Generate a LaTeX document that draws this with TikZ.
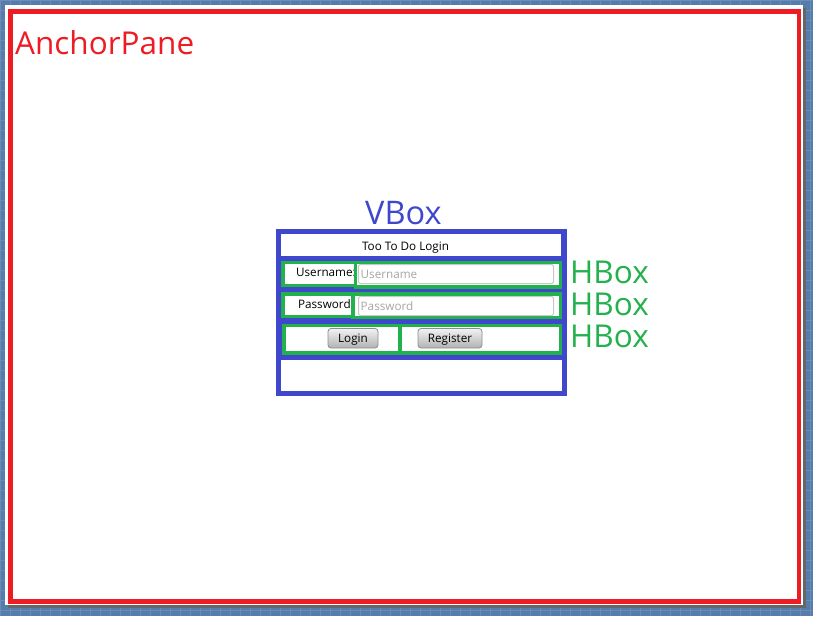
\documentclass[tikz,border=0pt]{standalone}
\usepackage{fontspec}
\setmainfont{Open Sans}
\definecolor{paintred}{HTML}{ED1C24}
\definecolor{paintblue}{HTML}{3F48CC}
\definecolor{paintgreen}{HTML}{22B14C}
\definecolor{bgblue}{HTML}{557CAA}
\definecolor{gridline}{HTML}{6A8DB8}
\definecolor{fieldline}{HTML}{C8C8C8}
\definecolor{hint}{HTML}{A6A6A6}
\tikzset{
  hbox/.style={draw=paintgreen, line width=3.5pt, fill=white},
  field/.style={draw=fieldline, line width=1pt, fill=white, rounded corners=1.5pt},
  btn/.style={draw=black!45, line width=0.8pt, rounded corners=3pt, top color=white!95!black, bottom color=black!30},
  small/.style={inner sep=0pt, font=\fontsize{11.7}{13}\selectfont},
  big/.style={inner sep=0pt, font=\fontsize{31.5}{36}\selectfont},
}
\begin{document}
\begin{tikzpicture}[x=1pt,y=-1pt]
\useasboundingbox (0,0) rectangle (813,616);
% desktop background with grid
\fill[bgblue] (0,0) rectangle (813,616);
\foreach \g in {0,10,...,810} \draw[gridline, line width=0.7pt] (\g,0) -- (\g,616);
\foreach \g in {0,10,...,610} \draw[gridline, line width=0.7pt] (0,\g) -- (813,\g);
% window shadow and white pane
\fill[black!60] (8,8) rectangle (806,608);
\fill[white] (5,5) rectangle (803,605);
% AnchorPane border
\draw[paintred, line width=4.5pt] (10.5,11.25) rectangle (798.75,601.25);
\node[big, text=paintred, anchor=base west] (anchor) at (15,54) {AnchorPane};
% VBox
\fill[paintblue] (276,229) rectangle (567,396);
\fill[white] (281,234) rectangle (561,256);
\fill[white] (281,360) rectangle (562,391);
\node[big, text=paintblue, anchor=base west, font=\fontsize{32.5}{36}\selectfont] (vbox) at (365,224) {VBox};
\node[small, anchor=base] (title) at (405.5,250.3) {Too To Do Login};
% HBox 1
\draw[hbox] (282.75,262.25) rectangle (355.25,285.25);
\draw[hbox] (355.25,262.25) rectangle (560.5,286.75);
\draw[field] (358.5,264.5) rectangle (553.5,283.5);
\node[small, anchor=base east] (userlbl) at (356,276.5) {Username:};
\node[small, text=hint, anchor=base west] (userfld) at (360.5,278.5) {Username};
\draw[paintgreen, line width=3.5pt] (355.25,260.5) -- (355.25,288.5);
% HBox 2
\draw[hbox] (282.75,293.75) rectangle (352.75,316.25);
\draw[hbox] (352.75,293.75) rectangle (560.5,317.25);
\draw[field] (358.5,296.5) rectangle (553.5,315.5);
\node[small, anchor=base east] (passlbl) at (354,308) {Password:};
\node[small, text=hint, anchor=base west] (passfld) at (360.5,310.5) {Password};
\draw[paintgreen, line width=3.5pt] (352.75,292) -- (352.75,319);
% HBox 3
\draw[hbox] (284,325.5) rectangle (400.2,353);
\draw[hbox] (400.2,325.5) rectangle (560.5,353);
\draw[btn] (328,328.5) rectangle (378,348);
\draw[btn] (418,328.5) rectangle (482,348);
\node[small, anchor=base] (login) at (353,342) {Login};
\node[small, anchor=base] (register) at (450,342) {Register};
% HBox labels
\node[big, text=paintgreen, anchor=base west] (h1) at (570,283.5) {HBox};
\node[big, text=paintgreen, anchor=base west] (h2) at (570,315) {HBox};
\node[big, text=paintgreen, anchor=base west] (h3) at (570,347) {HBox};
\end{tikzpicture}
\end{document}
